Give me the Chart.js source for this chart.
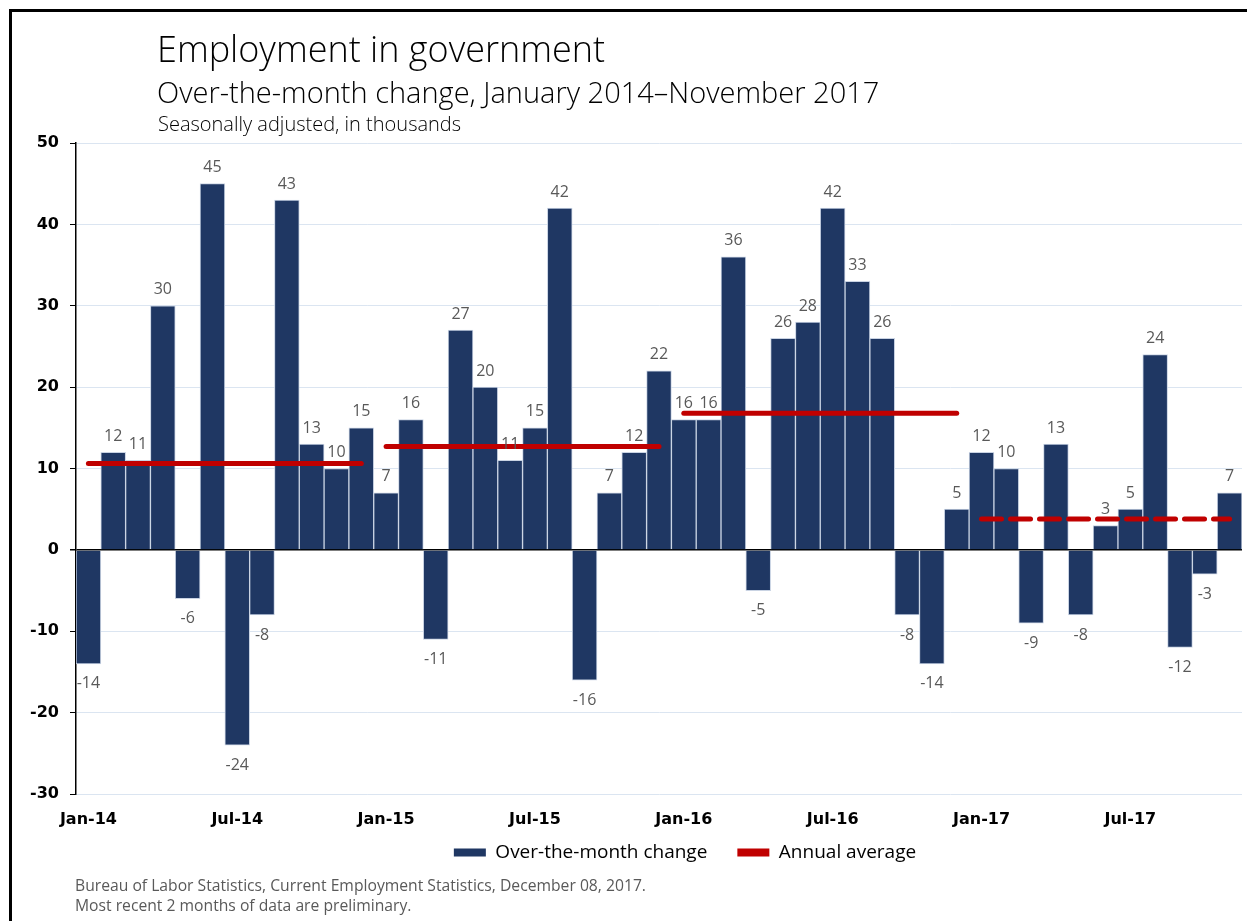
<!DOCTYPE html>
<html>
<head>
<meta charset="utf-8">
<script src="https://cdn.jsdelivr.net/npm/chart.js@4"></script>
<style>
  html, body { margin: 0; padding: 0; background: #fff; overflow: hidden; }
  #page { position: relative; width: 1247px; height: 921px; }
  #frame { position: absolute; left: 9px; top: 9px; width: 1260px; height: 940px; border: 3px solid #000; box-sizing: border-box; }
  .txt { position: absolute; font-family: "Open Sans", sans-serif; font-weight: 300; white-space: nowrap; color: #000; }
  #title { left: 157px; top: 25px; font-size: 36px; line-height: 48px; }
  #subtitle { left: 157px; top: 74px; font-size: 29px; line-height: 36px; }
  #note { left: 158px; top: 111px; font-size: 20px; line-height: 26px; }
  #footer { left: 75px; top: 875px; font-size: 15.7px; line-height: 20px; color: #595959; font-weight: 400; }
  #wrap { position: absolute; left: 0; top: 0; width: 1247px; height: 921px; }
</style>
</head>
<body>
<div id="page">
  <div id="frame"></div>
  <div id="wrap"><canvas id="chart"></canvas></div>
  <div class="txt" id="title">Employment in government</div>
  <div class="txt" id="subtitle">Over-the-month change, January 2014–November 2017</div>
  <div class="txt" id="note">Seasonally adjusted, in thousands</div>
  <div class="txt" id="footer">Bureau of Labor Statistics, Current Employment Statistics, December 08, 2017.<br>Most recent 2 months of data are preliminary.</div>
</div>
<script>
// months Jan 2014 - Nov 2017
const months = [
  'Jan-14','Feb-14','Mar-14','Apr-14','May-14','Jun-14','Jul-14','Aug-14','Sep-14','Oct-14','Nov-14','Dec-14',
  'Jan-15','Feb-15','Mar-15','Apr-15','May-15','Jun-15','Jul-15','Aug-15','Sep-15','Oct-15','Nov-15','Dec-15',
  'Jan-16','Feb-16','Mar-16','Apr-16','May-16','Jun-16','Jul-16','Aug-16','Sep-16','Oct-16','Nov-16','Dec-16',
  'Jan-17','Feb-17','Mar-17','Apr-17','May-17','Jun-17','Jul-17','Aug-17','Sep-17','Oct-17','Nov-17'
];

const monthlyChange = [
  -14, 12, 11, 30, -6, 45, -24, -8, 43, 13, 10, 15,
  7, 16, -11, 27, 20, 11, 15, 42, -16, 7, 12, 22,
  16, 16, 36, -5, 26, 28, 42, 33, 26, -8, -14, 5,
  12, 10, -9, 13, -8, 3, 5, 24, -12, -3, 7
];

// annual averages, per year
const avgYears = ['2014', '2015', '2016', '2017'];
const avgValues = [10.6, 12.7, 16.8, 3.8];

const yTicks = [50, 40, 30, 20, 10, 0, -10, -20, -30];

const navy = '#1f3763';
const red = '#c00000';

// one line per year, only over that year's months
function yearLine(yi) {
  return months.map((m, i) => (m.slice(-2) === avgYears[yi].slice(-2) ? avgValues[yi] : null));
}

const lineSets = avgYears.map((y, yi) => ({
  type: 'line',
  label: 'Annual average',
  data: yearLine(yi),
  borderColor: red,
  backgroundColor: red,
  borderWidth: 5,
  borderCapStyle: 'round',
  borderDash: y === '2017' ? [20, 9] : [],
  pointRadius: 0,
  spanGaps: false,
  order: 0
}));

// value labels above / below bars
const barLabels = {
  id: 'barLabels',
  afterDatasetsDraw(chart) {
    const meta = chart.getDatasetMeta(0);
    const ctx = chart.ctx;
    ctx.save();
    ctx.font = '16px "Open Sans"';
    ctx.fillStyle = '#595959';
    ctx.textAlign = 'center';
    meta.data.forEach((bar, i) => {
      const v = monthlyChange[i];
      if (v >= 0) {
        ctx.textBaseline = 'bottom';
        ctx.fillText(String(v), bar.x, bar.y - 8);
      } else {
        ctx.textBaseline = 'top';
        ctx.fillText(String(v), bar.x, bar.y + 12);
      }
    });
    ctx.restore();
  }
};

// the legend sits a bit right of the page centre and close under the axis
const legendShift = {
  id: 'legendShift',
  afterLayout(chart) {
    const lg = chart.legend;
    lg.left += 64;
    lg.right += 64;
    lg.top -= 21;
    lg.bottom -= 21;
  }
};

new Chart(document.getElementById('chart'), {
  data: {
    labels: months,
    datasets: [{
      type: 'bar',
      label: 'Over-the-month change',
      data: monthlyChange,
      backgroundColor: navy,
      borderColor: '#c9d3e3',
      borderWidth: 1,
      barPercentage: 1,
      categoryPercentage: 1,
      order: 1
    }, ...lineSets]
  },
  options: {
    responsive: true,
    maintainAspectRatio: false,
    animation: false,
    layout: { padding: { left: 0, right: 5, top: 143, bottom: 28 } },
    plugins: {
      tooltip: { enabled: false },
      legend: {
        position: 'bottom',
        labels: {
          font: { family: 'Open Sans', size: 19 },
          color: '#404040',
          boxWidth: 32,
          boxHeight: 8,
          padding: 30,
          generateLabels(chart) {
            return [
              { text: 'Over-the-month change', fillStyle: navy, strokeStyle: navy, lineWidth: 0, datasetIndex: 0 },
              { text: 'Annual average', fillStyle: red, strokeStyle: red, lineWidth: 0, datasetIndex: 1 }
            ];
          }
        }
      }
    },
    scales: {
      x: {
        grid: { display: false },
        border: { display: false },
        ticks: {
          autoSkip: false,
          maxRotation: 0,
          color: '#000',
          font: { family: 'DejaVu Sans', size: 16, weight: 'bold' },
          padding: 8,
          callback: (v, i) => (i % 6 === 0 ? months[i] : '')
        },
        afterFit(scale) { scale.height = 40; }
      },
      y: {
        min: -30,
        max: 50,
        afterBuildTicks(scale) { scale.ticks = yTicks.map(v => ({ value: v })); },
        grid: {
          color: ctx => (ctx.tick && ctx.tick.value === 0 ? '#000' : '#dbe5f1'),
          lineWidth: ctx => (ctx.tick && ctx.tick.value === 0 ? 1.5 : 1),
          tickColor: '#000',
          tickLength: 6
        },
        border: { color: '#000', width: 1.5 },
        ticks: {
          color: '#000',
          font: { family: 'DejaVu Sans', size: 16, weight: 'bold' },
          padding: 11
        },
        afterFit(scale) { scale.width = 76; }
      }
    }
  },
  plugins: [barLabels, legendShift]
});
</script>
</body>
</html>
